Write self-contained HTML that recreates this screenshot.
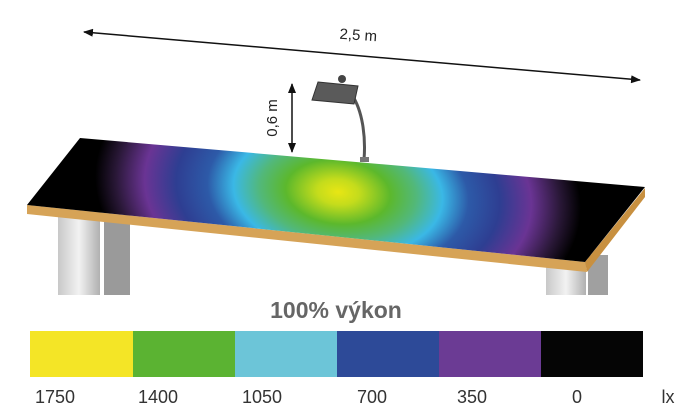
<!DOCTYPE html>
<html><head><meta charset="utf-8"><style>
html,body{margin:0;padding:0;background:#fff;}
svg{display:block}
text{font-family:"Liberation Sans",sans-serif}
</style></head><body>
<svg width="700" height="419" viewBox="0 0 700 419" xmlns="http://www.w3.org/2000/svg">
<defs>
<marker id="ah" markerWidth="10" markerHeight="8" refX="9" refY="4" orient="auto" markerUnits="userSpaceOnUse"><path d="M0,0 L10,4 L0,8 Z" fill="#111"/></marker>
<marker id="ahs" markerWidth="10" markerHeight="8" refX="1" refY="4" orient="auto" markerUnits="userSpaceOnUse"><path d="M10,0 L0,4 L10,8 Z" fill="#111"/></marker>
<radialGradient id="lg" gradientUnits="userSpaceOnUse" cx="0" cy="0" r="1" gradientTransform="translate(338,192) rotate(6) scale(262,160)">
<stop offset="0" stop-color="#e8e614"/>
<stop offset="0.08" stop-color="#c4dc1c"/>
<stop offset="0.2" stop-color="#5cb82c"/>
<stop offset="0.3" stop-color="#52b87a"/>
<stop offset="0.4" stop-color="#3ab8e6"/>
<stop offset="0.5" stop-color="#2d5aa8"/>
<stop offset="0.62" stop-color="#2e3e92"/>
<stop offset="0.74" stop-color="#6a3494"/>
<stop offset="0.85" stop-color="#2a1838"/>
<stop offset="0.93" stop-color="#000"/>
<stop offset="1" stop-color="#000"/>
</radialGradient>
<linearGradient id="leg" x1="0" x2="1"><stop offset="0" stop-color="#c8c8c8"/><stop offset="0.5" stop-color="#f2f2f2"/><stop offset="1" stop-color="#b0b0b0"/></linearGradient>
</defs>
<rect x="58" y="210" width="42" height="85" fill="url(#leg)"/>
<rect x="104" y="215" width="26" height="80" fill="#9a9a9a"/>
<rect x="546" y="262" width="40" height="33" fill="url(#leg)"/>
<rect x="588" y="255" width="20" height="40" fill="#a0a0a0"/>
<polygon points="27,205 585,262 587,272 27,214" fill="#d6a357"/>
<polygon points="585,262 645,188 645,197 587,272" fill="#c89040"/>
<polygon points="80,138 645,187 585,262 27,205" fill="url(#lg)"/>
<path d="M352,95 C362,110 366,135 364,160" stroke="#555" stroke-width="3" fill="none"/>
<rect x="360" y="157" width="9" height="5" fill="#777"/>
<polygon points="318,82 358,86 354,104 312,100" fill="#5a5a5a" stroke="#333"/>
<circle cx="342" cy="79" r="4" fill="#444"/>
<line x1="84" y1="32" x2="640" y2="80" stroke="#111" stroke-width="1.5" marker-start="url(#ahs)" marker-end="url(#ah)"/>
<text x="358" y="40" font-size="15" fill="#222" text-anchor="middle" transform="rotate(4 358 40)">2,5 m</text>
<line x1="292" y1="84" x2="292" y2="152" stroke="#111" stroke-width="1.5" marker-start="url(#ahs)" marker-end="url(#ah)"/>
<text x="0" y="0" font-size="15" fill="#222" text-anchor="middle" transform="translate(277,118) rotate(-90)">0,6 m</text>
<text x="336" y="318" font-size="23" font-weight="bold" fill="#666" text-anchor="middle">100% výkon</text>
<rect x="30" y="331" width="103" height="46" fill="#f4e526"/>
<rect x="133" y="331" width="102" height="46" fill="#5bb332"/>
<rect x="235" y="331" width="102" height="46" fill="#6cc5d8"/>
<rect x="337" y="331" width="102" height="46" fill="#2d4a98"/>
<rect x="439" y="331" width="102" height="46" fill="#6b3b94"/>
<rect x="541" y="331" width="102" height="46" fill="#050505"/>
<g font-size="18" fill="#333" text-anchor="middle">
<text x="55" y="403">1750</text>
<text x="158" y="403">1400</text>
<text x="262" y="403">1050</text>
<text x="372" y="403">700</text>
<text x="472" y="403">350</text>
<text x="577" y="403">0</text>
<text x="668" y="403">lx</text>
</g>
</svg>
</body></html>
